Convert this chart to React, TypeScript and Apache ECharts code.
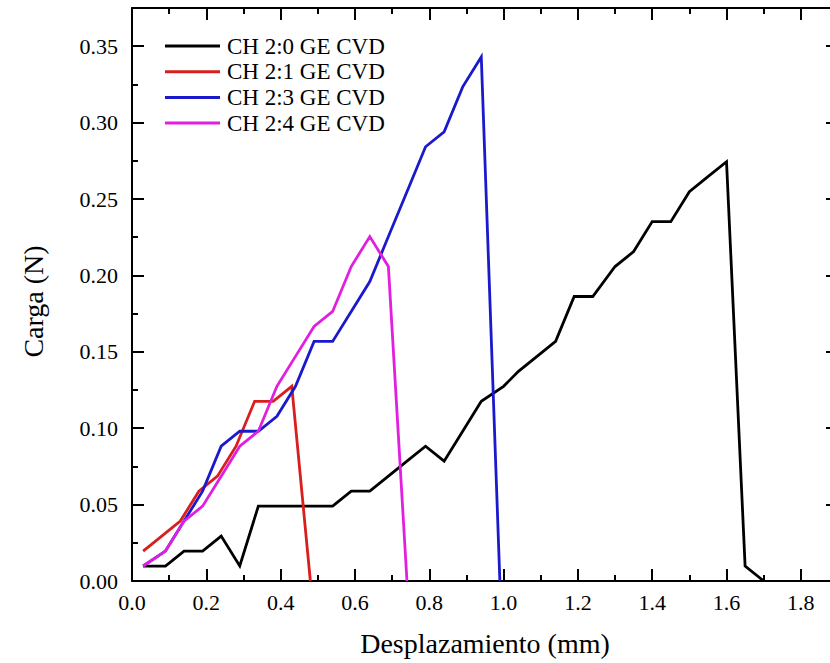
import React, { useEffect, useRef } from "react";
import * as echarts from "echarts";

const seriesNames = ["CH 2:0 GE CVD", "CH 2:1 GE CVD", "CH 2:3 GE CVD", "CH 2:4 GE CVD"];
const seriesColors = ["#000000", "#d91e1e", "#1a1acc", "#e01fe0"];

const blackX = [0.03, 0.09, 0.14, 0.19, 0.24, 0.29, 0.34, 0.39, 0.44, 0.49, 0.54, 0.59, 0.64, 0.69, 0.74, 0.79, 0.84, 0.89, 0.94, 1.0, 1.04, 1.09, 1.14, 1.19, 1.24, 1.3, 1.35, 1.4, 1.45, 1.5, 1.55, 1.6, 1.65, 1.7];
const blackY = [0.0098, 0.0098, 0.0196, 0.0196, 0.0294, 0.0098, 0.049, 0.049, 0.049, 0.049, 0.049, 0.0588, 0.0588, 0.0686, 0.0784, 0.0882, 0.0784, 0.098, 0.1176, 0.1274, 0.1372, 0.147, 0.1568, 0.1862, 0.1862, 0.2058, 0.2156, 0.2352, 0.2352, 0.2548, 0.2646, 0.2744, 0.0098, 0];

const redX = [0.03, 0.08, 0.13, 0.18, 0.23, 0.28, 0.33, 0.38, 0.43, 0.48];
const redY = [0.0196, 0.0294, 0.0392, 0.0588, 0.0686, 0.0882, 0.1176, 0.1176, 0.1274, 0];

const blueX = [0.03, 0.09, 0.14, 0.19, 0.24, 0.29, 0.34, 0.39, 0.44, 0.49, 0.54, 0.59, 0.64, 0.69, 0.74, 0.79, 0.84, 0.89, 0.94, 0.99];
const blueY = [0.0098, 0.0196, 0.0392, 0.0588, 0.0882, 0.098, 0.098, 0.1078, 0.1274, 0.1568, 0.1568, 0.1764, 0.196, 0.2254, 0.2548, 0.2842, 0.294, 0.3234, 0.343, 0];

const magentaX = [0.03, 0.09, 0.14, 0.19, 0.24, 0.29, 0.34, 0.39, 0.44, 0.49, 0.54, 0.59, 0.64, 0.69, 0.74];
const magentaY = [0.0098, 0.0196, 0.0392, 0.049, 0.0686, 0.0882, 0.098, 0.1274, 0.147, 0.1666, 0.1764, 0.2058, 0.2254, 0.2058, 0];

const xAxisMin = 0;
const xAxisMax = 1.9;
const xAxisInterval = 0.2;
const yAxisMin = 0;
const yAxisMax = 0.375;
const yAxisInterval = 0.05;

const xTitle = "Desplazamiento (mm)";
const yTitle = "Carga (N)";

const zip = (xs: number[], ys: number[]) => xs.map((x, i) => [x, ys[i]]);

const FONT = "'Liberation Serif', 'Times New Roman', serif";

export default function App() {
  const ref = useRef<HTMLDivElement>(null);

  useEffect(() => {
    if (!ref.current) return;
    const chart = echarts.init(ref.current, null, { renderer: "svg" });

    const mkAxisLine = () => ({ show: true, onZero: false, lineStyle: { color: "#000", width: 2 } });
    const mkAxisTick = () => ({ show: true, inside: true, length: 12, lineStyle: { color: "#000", width: 2 } });
    const mkMinorTick = () => ({ show: true, splitNumber: 2, length: 6, lineStyle: { color: "#000", width: 2 } });

    const data = [zip(blackX, blackY), zip(redX, redY), zip(blueX, blueY), zip(magentaX, magentaY)];

    chart.setOption({
      animation: false,
      backgroundColor: "#ffffff",
      grid: { left: 132, right: 12, top: 8, bottom: 82, containLabel: false },
      legend: {
        orient: "vertical",
        left: 165,
        top: 34.5,
        padding: 0,
        itemGap: 2.7,
        itemWidth: 55,
        itemHeight: 3,
        icon: "rect",
        data: seriesNames,
        textStyle: { fontFamily: FONT, fontSize: 23, color: "#000", padding: [0, 0, 0, 2] },
      },
      xAxis: [
        {
          type: "value",
          position: "bottom",
          min: xAxisMin,
          max: xAxisMax,
          interval: xAxisInterval,
          axisLine: mkAxisLine(),
          axisTick: mkAxisTick(),
          minorTick: mkMinorTick(),
          splitLine: { show: false },
          axisLabel: {
            show: true,
            margin: 10,
            showMaxLabel: false,
            fontFamily: FONT,
            fontSize: 22,
            color: "#000",
            formatter: (v: number) => v.toFixed(1),
          },
          name: xTitle,
          nameLocation: "middle",
          nameGap: 48,
          nameTextStyle: { fontFamily: FONT, fontSize: 28, color: "#000" },
        },
        {
          type: "value",
          position: "top",
          min: xAxisMin,
          max: xAxisMax,
          interval: xAxisInterval,
          axisLine: mkAxisLine(),
          axisTick: mkAxisTick(),
          minorTick: mkMinorTick(),
          splitLine: { show: false },
          axisLabel: { show: false },
        },
      ],
      yAxis: [
        {
          type: "value",
          position: "left",
          min: yAxisMin,
          max: yAxisMax,
          interval: yAxisInterval,
          axisLine: mkAxisLine(),
          axisTick: mkAxisTick(),
          minorTick: mkMinorTick(),
          splitLine: { show: false },
          axisLabel: {
            show: true,
            margin: 14,
            showMaxLabel: false,
            fontFamily: FONT,
            fontSize: 22,
            color: "#000",
            formatter: (v: number) => v.toFixed(2),
          },
          name: yTitle,
          nameLocation: "middle",
          nameGap: 85,
          nameTextStyle: { fontFamily: FONT, fontSize: 28, color: "#000", padding: [0, 14, 0, 0] },
        },
        {
          type: "value",
          position: "right",
          min: yAxisMin,
          max: yAxisMax,
          interval: yAxisInterval,
          axisLine: mkAxisLine(),
          axisTick: mkAxisTick(),
          minorTick: mkMinorTick(),
          splitLine: { show: false },
          axisLabel: { show: false },
        },
      ],
      series: seriesNames.map((name, i) => ({
        name,
        type: "line",
        xAxisIndex: 0,
        yAxisIndex: 0,
        data: data[i],
        showSymbol: false,
        symbol: "none",
        color: seriesColors[i],
        lineStyle: { color: seriesColors[i], width: 2.8, join: "miter" },
      })),
    });

    return () => chart.dispose();
  }, []);

  return (
    <div style={{ position: "fixed", left: 0, top: 0, width: 830, height: 663, overflow: "hidden", background: "#fff" }}>
      <div ref={ref} style={{ width: 850, height: 663 }} />
    </div>
  );
}
